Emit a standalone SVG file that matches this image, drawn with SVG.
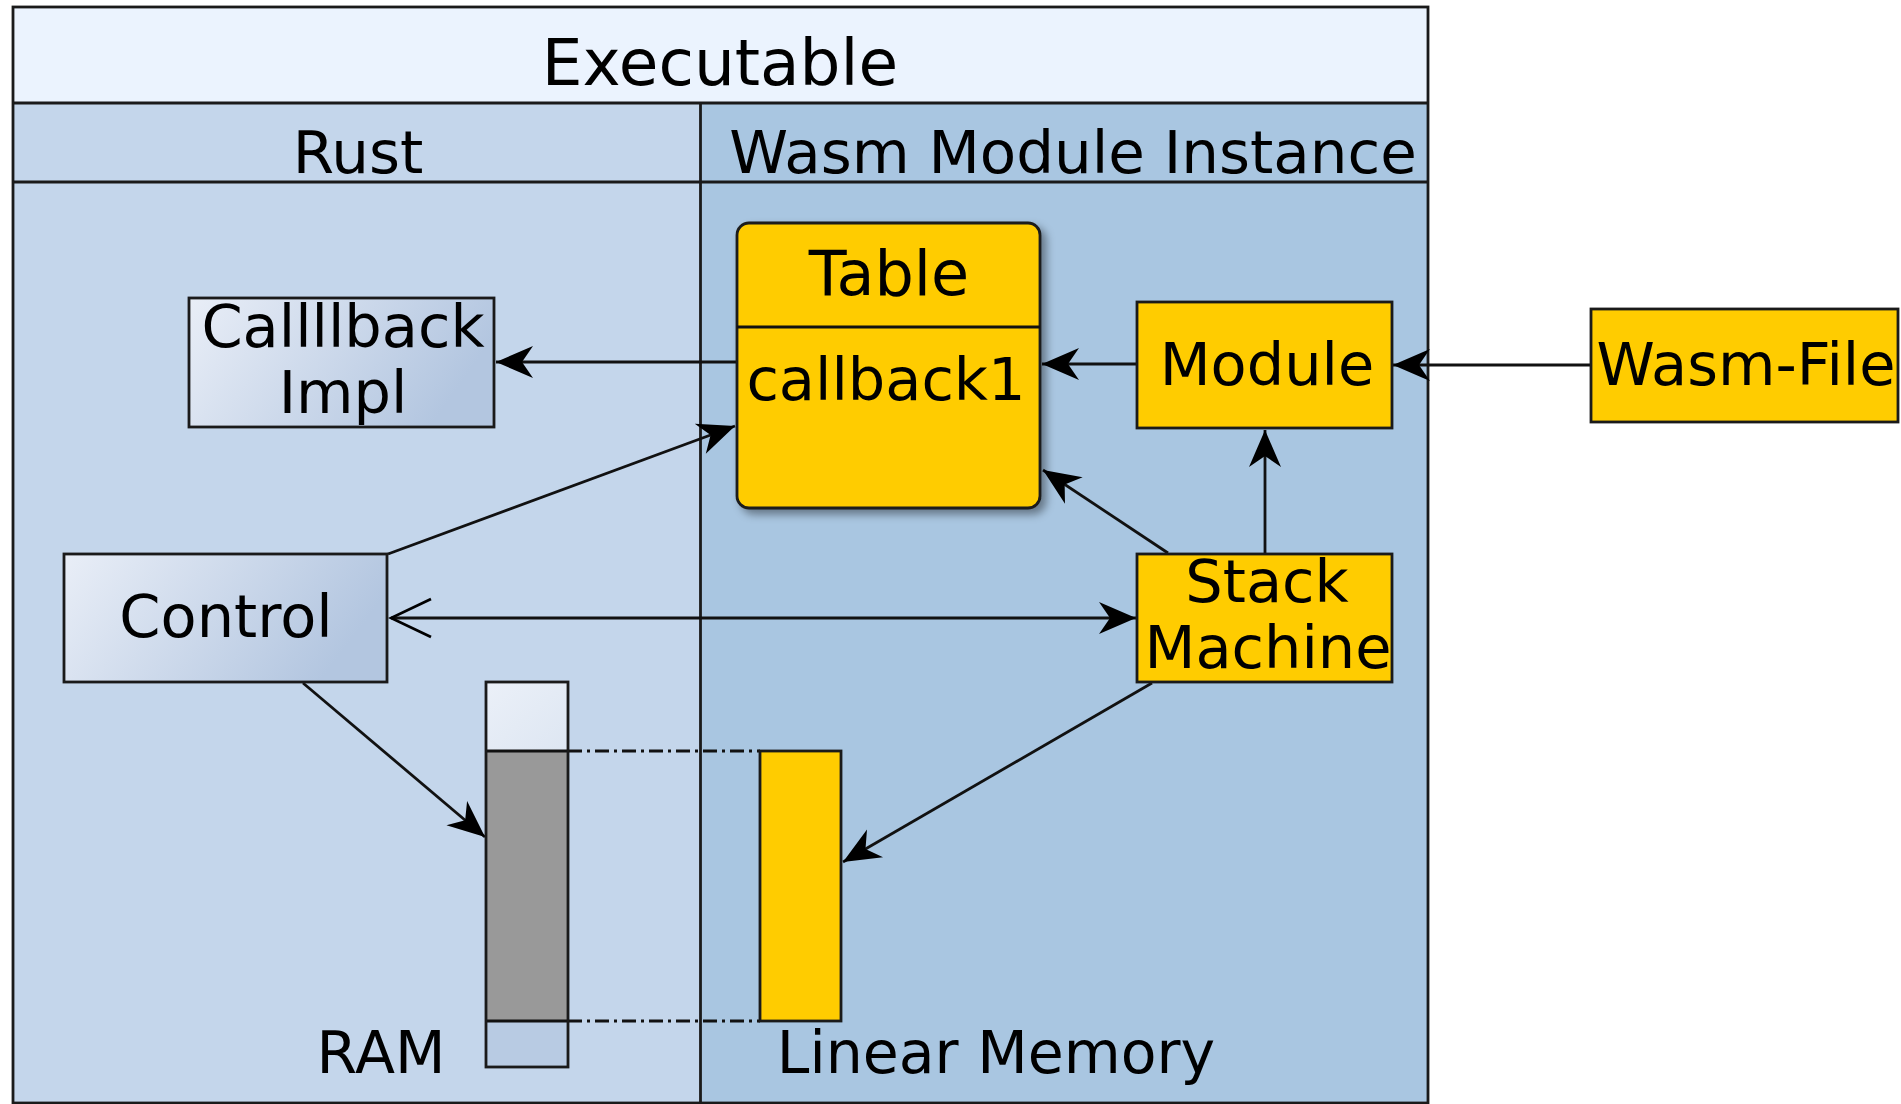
<svg xmlns="http://www.w3.org/2000/svg" width="1901" height="1104" viewBox="0 0 1901 1104">
  <style>
    text { font-family: "DejaVu Sans", "Liberation Sans", sans-serif; fill: #000; text-anchor: middle; }
    .hdr { font-size: 59.5px; }
    .lbl { font-size: 59px; }
    .mem { font-size: 58.5px; }
    .box { stroke: #1a1a1a; stroke-width: 2.8; }
    .gold { fill: #FFCC00; }
    .soft { fill: url(#softBlue); }
    .frame { fill: none; stroke: #1a1a1a; stroke-width: 2.8; }
    .edge { fill: none; stroke: #111; stroke-width: 2.8; }
    .arrow { marker-end: url(#head); }
    .link { fill: none; stroke: #111; stroke-width: 2.8; stroke-dasharray: 14 5 3 5; }
  </style>
  <defs>
    <linearGradient id="softBlue" x1="0" y1="0" x2="1" y2="0.3">
      <stop offset="0" stop-color="#E9EEF7"/>
      <stop offset="1" stop-color="#B3C6E0"/>
    </linearGradient>
    <linearGradient id="ramTop" x1="0" y1="0" x2="1" y2="1">
      <stop offset="0" stop-color="#EBF0F8"/>
      <stop offset="1" stop-color="#DDE6F2"/>
    </linearGradient>
    <filter id="shadow" x="-10%" y="-10%" width="130%" height="130%">
      <feDropShadow dx="5" dy="5" stdDeviation="4" flood-color="#000" flood-opacity="0.4"/>
    </filter>
    <marker id="head" markerUnits="userSpaceOnUse" markerWidth="44" markerHeight="38" viewBox="-40 -19 42 38" refX="0" refY="0" orient="auto">
      <path d="M0,0 L-37,-16 L-26,0 L-37,16 Z" fill="#000"/>
    </marker>
    <marker id="open" markerUnits="userSpaceOnUse" markerWidth="46" markerHeight="44" viewBox="-43 -22 46 44" refX="0" refY="0" orient="auto-start-reverse">
      <path d="M-40,-19 L0,0 L-40,19" fill="none" stroke="#000" stroke-width="2.8"/>
    </marker>
  </defs>

  <!-- Swimlane frame -->
  <g id="executable">
    <rect x="13" y="7" width="1415" height="96" fill="#EBF3FE"/>
    <rect x="13" y="103" width="687" height="1000" fill="#C4D6EB"/>
    <rect x="700" y="103" width="728" height="1000" fill="#A9C6E1"/>
    <line x1="13" y1="103" x2="1428" y2="103" class="frame"/>
    <line x1="13" y1="182" x2="1428" y2="182" class="frame"/>
    <line x1="700.5" y1="103" x2="700.5" y2="1103" class="frame"/>
    <rect x="13" y="7" width="1415" height="1096" class="frame"/>
    <text x="720" y="85" style="font-size:64.5px">Executable</text>
    <text x="358" y="173" class="hdr">Rust</text>
    <text x="1073" y="173" class="hdr">Wasm Module Instance</text>
  </g>

  <!-- Connectors -->
  <g id="connectors">
    <line x1="1591" y1="365" x2="1393" y2="365" class="edge arrow"/>
    <line x1="1137" y1="364" x2="1042" y2="364" class="edge arrow"/>
    <line x1="737" y1="362" x2="496" y2="362" class="edge arrow"/>
    <line x1="388" y1="554" x2="735" y2="426" class="edge arrow"/>
    <line x1="1168" y1="553" x2="1043" y2="470" class="edge arrow"/>
    <line x1="1265" y1="554" x2="1265" y2="430" class="edge arrow"/>
    <line x1="391" y1="618" x2="1136" y2="618" class="edge arrow" marker-start="url(#open)"/>
    <line x1="303" y1="683" x2="485" y2="837" class="edge arrow"/>
    <line x1="1152" y1="683" x2="843" y2="862" class="edge arrow"/>
    <line x1="568" y1="751" x2="760" y2="751" class="link"/>
    <line x1="568" y1="1021" x2="760" y2="1021" class="link"/>
  </g>

  <!-- Nodes -->
  <g id="table">
    <rect x="737" y="223" width="303" height="285" rx="12" ry="12" class="gold box" filter="url(#shadow)"/>
    <line x1="737" y1="327" x2="1040" y2="327" class="edge"/>
    <text x="889" y="295" style="font-size:62px">Table</text>
    <text x="886" y="400" class="lbl">callback1</text>
  </g>

  <g id="module">
    <rect x="1137" y="302" width="255" height="126" class="gold box"/>
    <text x="1267" y="385" class="lbl">Module</text>
  </g>

  <g id="wasm-file">
    <rect x="1591" y="309" width="307" height="113" class="gold box"/>
    <text x="1746" y="385" class="lbl">Wasm-File</text>
  </g>

  <g id="stack-machine">
    <rect x="1137" y="554" width="255" height="128" class="gold box"/>
    <text x="1267" y="602" class="lbl">Stack</text>
    <text x="1268" y="668" class="lbl">Machine</text>
  </g>

  <g id="callback-impl">
    <rect x="189" y="298" width="305" height="129" class="soft box"/>
    <text x="343" y="347" class="lbl">Callllback</text>
    <text x="343" y="413" class="lbl">Impl</text>
  </g>

  <g id="control">
    <rect x="64" y="554" width="323" height="128" class="soft box"/>
    <text x="226" y="637" class="lbl">Control</text>
  </g>

  <g id="ram">
    <rect x="486" y="682" width="82" height="69" fill="url(#ramTop)"/>
    <rect x="486" y="751" width="82" height="270" fill="#999999"/>
    <rect x="486" y="1021" width="82" height="46" fill="#B8CBE3"/>
    <line x1="486" y1="751" x2="568" y2="751" class="edge"/>
    <line x1="486" y1="1021" x2="568" y2="1021" class="edge"/>
    <rect x="486" y="682" width="82" height="385" class="frame"/>
    <text x="381" y="1073" class="mem">RAM</text>
  </g>

  <g id="linear-memory">
    <rect x="760" y="751" width="81" height="270" class="gold box"/>
    <text x="996" y="1073" class="mem">Linear Memory</text>
  </g>
</svg>
